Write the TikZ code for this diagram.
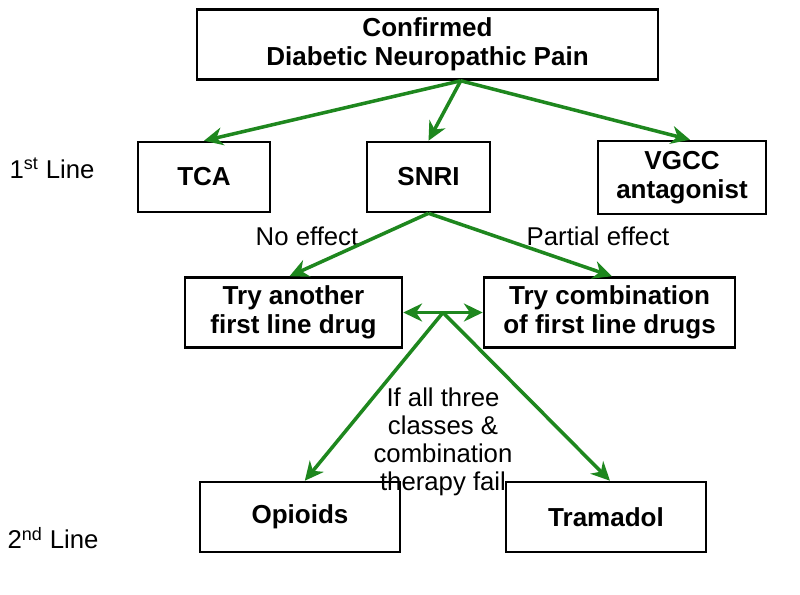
\documentclass[tikz,border=0pt]{standalone}
\usepackage{fontspec}
\setmainfont{Liberation Sans}
\usetikzlibrary{arrows.meta}
\definecolor{arrgreen}{RGB}{30,135,30}
\tikzset{  box/.style={draw,line width=1.8pt,inner sep=0pt,minimum height=1.75cm,align=center,font=\fontsize{18.5}{20.5}\selectfont\bfseries},
  lbl/.style={align=center,font=\fontsize{18.3}{20}\selectfont},
  flow/.style={draw=arrgreen,line width=2.5pt,-{Stealth[length=0.47cm,width=0.45cm,inset=0.15cm]}} }

\begin{document}
\begin{tikzpicture}[x=0.025cm,y=-0.025cm]
  \useasboundingbox (0,0) rectangle (800,594);
  \node[box,minimum width=11.525cm] (pain) at (427.5,44.5) {Confirmed\\Diabetic Neuropathic Pain};
  \node[box,minimum width=3.3cm] (tca) at (204,177) {TCA};
  \node[box,minimum width=3.075cm] (snri) at (428.5,177) {SNRI};
  \node[box,minimum width=4.2cm,minimum height=1.825cm] (vgcc) at (682,177.5) {VGCC\\antagonist};
  \node[box,minimum width=5.425cm] (other) at (293.5,312.5) {Try another\\first line drug};
  \node[box,minimum width=6.275cm] (combo) at (609.5,312.5) {Try combination\\of first line drugs};
  \node[box,minimum width=5cm] (opi) at (300,517) {Opioids};
  \node[box,minimum width=5cm] (tram) at (606,517) {Tramadol};
  \node[lbl] (line1) at (52,168) {1\textsuperscript{st} Line};
  \node[lbl] (line2) at (53,538) {2\textsuperscript{nd} Line};
  \node[lbl] (noeff) at (307,236) {No effect};
  \node[lbl] (parteff) at (598,236) {Partial effect};
  \node[lbl] (fail) at (443,442) {If all three\\classes \&\\combination\\therapy fail};
  \coordinate (split) at ([xshift=0.83cm]pain.south);
  \coordinate (mid) at (443,312.5);
  \draw[flow] (split) -- (tca.north);
  \draw[flow] (split) -- (snri.north);
  \draw[flow] (split) -- ([xshift=0.2cm]vgcc.north);
  \draw[flow] (snri.south) -- ([xshift=-0.1cm]other.north);
  \draw[flow] (snri.south) -- ([xshift=0.06cm]combo.north);
  \draw[flow,{Stealth[length=0.47cm,width=0.45cm,inset=0.15cm]}-{Stealth[length=0.47cm,width=0.45cm,inset=0.15cm]}] (other.east) -- (combo.west);
  \draw[flow] (mid) -- ([xshift=0.12cm]opi.north);
  \draw[flow] (mid) -- ([xshift=0.1cm]tram.north);
\end{tikzpicture}
\end{document}
